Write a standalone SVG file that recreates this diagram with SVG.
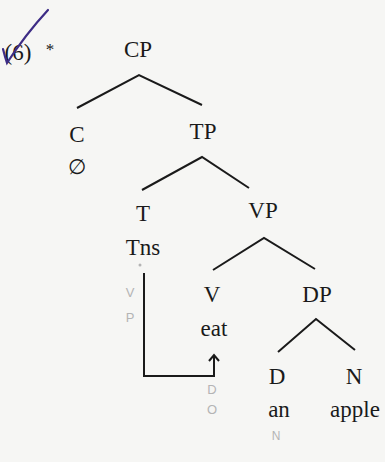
<svg xmlns="http://www.w3.org/2000/svg" width="385" height="462" viewBox="0 0 385 462">
<style>
.t{font-family:"Liberation Serif","Times New Roman",serif;font-size:23px;fill:#1a1a1a;text-anchor:middle}
.p{font-family:"Liberation Sans",Arial,sans-serif;font-size:13px;fill:#b4b4b4;text-anchor:middle}
.l{stroke:#1a1a1a;stroke-width:2;fill:none}
</style>
<defs>
<marker id="ah" markerWidth="12" markerHeight="12" refX="10" refY="6" orient="auto" markerUnits="userSpaceOnUse">
<path d="M4,1 L10,6 L4,11" fill="none" stroke="#1a1a1a" stroke-width="2"/>
</marker>
</defs>
<rect width="385" height="462" fill="#f6f6f4"/>
<g id="label">
<text class="t" x="18" y="60">(6)</text>
<text class="t" x="50" y="55" style="font-size:17px">*</text>
<path d="M3,49 Q5,57 7,63 Q25,35 48,10" fill="none" stroke="#3d2c85" stroke-width="2.2" stroke-linecap="round"/>
</g>
<g id="CP"><text class="t" x="138" y="57">CP</text></g>
<g id="C"><text class="t" x="77" y="142">C</text><text class="t" x="77" y="174" style="font-size:21px">∅</text></g>
<g id="TP"><text class="t" x="203" y="139">TP</text></g>
<g id="T"><text class="t" x="143" y="221">T</text><text class="t" x="143" y="255">Tns</text></g>
<g id="VP"><text class="t" x="263" y="218">VP</text></g>
<g id="V"><text class="t" x="212" y="302">V</text><text class="t" x="214" y="336">eat</text></g>
<g id="DP"><text class="t" x="317" y="302">DP</text></g>
<g id="D"><text class="t" x="277" y="384">D</text><text class="t" x="279" y="417">an</text></g>
<g id="N"><text class="t" x="354" y="384">N</text><text class="t" x="355" y="417">apple</text></g>
<g id="pencil">
<circle cx="140" cy="265" r="1.5" fill="#b4b4b4"/>
<text class="p" x="130" y="297">V</text>
<text class="p" x="130" y="322">P</text>
<text class="p" x="212" y="394">D</text>
<text class="p" x="212" y="414">O</text>
<text class="p" x="276" y="440" style="font-size:12px">N</text>
</g>
<g id="connectors">
<path class="l" d="M77,108 L139,75 L202,105"/>
<path class="l" d="M142,190 L202,157 L249,188"/>
<path class="l" d="M213,270 L264,238 L315,269"/>
<path class="l" d="M278,352 L316,319 L355,350"/>
<path class="l" d="M144,273 L144,376 L214,376 L214,355" marker-end="url(#ah)"/>
</g>
</svg>
